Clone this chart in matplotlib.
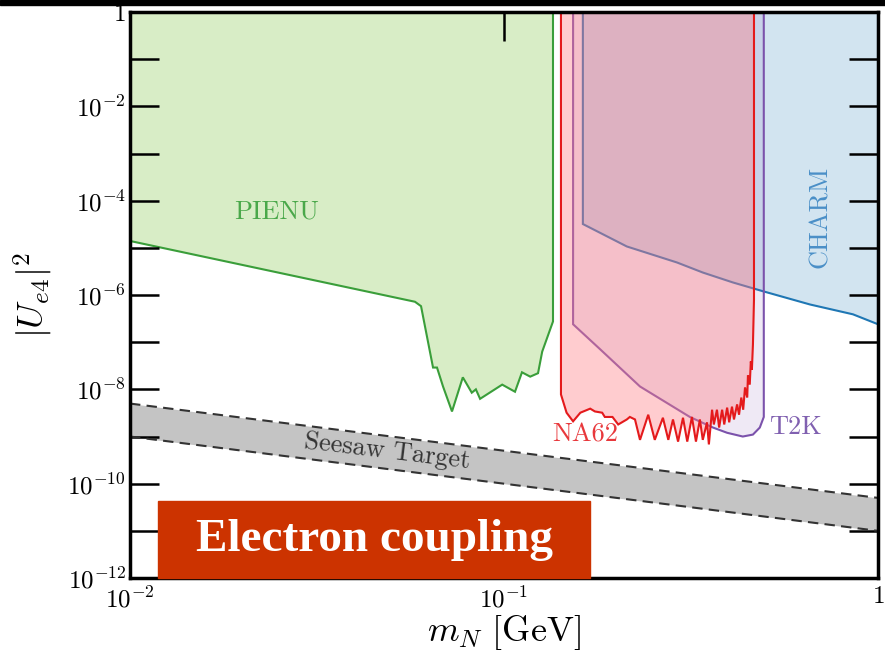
import numpy as np
import matplotlib.pyplot as plt
from matplotlib.patches import Rectangle
from matplotlib.ticker import FixedLocator, FuncFormatter, NullLocator

plt.rcParams['mathtext.fontset'] = 'cm'
plt.rcParams['font.family'] = 'serif'
plt.rcParams['font.serif'] = ['cmr10', 'DejaVu Serif']
plt.rcParams['axes.formatter.use_mathtext'] = True

# PIENU exclusion (mass in GeV, |U_e4|^2)
pienu_mass = [0.01, 0.01, 0.0578, 0.0600, 0.0646, 0.0662, 0.0687, 0.0726, 0.0776,
              0.0820, 0.0841, 0.0863, 0.0989, 0.107, 0.1117, 0.1175, 0.1233,
              0.1265, 0.1352, 0.1352]
pienu_u2 = [1, 1.4e-5, 7.2e-7, 5.8e-7, 2.9e-8, 2.9e-8, 1.15e-8, 3.4e-9, 1.8e-8,
            8.5e-9, 1.0e-8, 6.3e-9, 1.26e-8, 8.9e-9, 2.3e-8, 1.86e-8, 2.2e-8,
            6.3e-8, 2.75e-7, 1]

# NA62 K -> e N
na62_mass = [0.142, 0.142, 0.147, 0.153, 0.160, 0.170, 0.175, 0.183, 0.186, 0.195,
             0.202, 0.213, 0.217, 0.224, 0.231, 0.243, 0.253, 0.266, 0.275, 0.283,
             0.292, 0.301, 0.309, 0.318, 0.326, 0.334, 0.340, 0.349, 0.353, 0.360,
             0.364, 0.371, 0.376, 0.383, 0.388, 0.395, 0.400, 0.407, 0.412, 0.420,
             0.425, 0.431, 0.436, 0.441, 0.447, 0.449, 0.454, 0.457, 0.460, 0.463,
             0.466, 0.466]
na62_u2 = [1, 7.8e-9, 3.2e-9, 2.1e-9, 3.2e-9, 3.9e-9, 3.4e-9, 3.2e-9, 2.6e-9, 2.6e-9,
           1.8e-9, 2.3e-9, 2.6e-9, 2.3e-9, 8.5e-10, 2.9e-9, 8.5e-10, 2.5e-9, 8.5e-10, 2.3e-9,
           7.8e-10, 2.5e-9, 7.8e-10, 2.6e-9, 7.8e-10, 2.3e-9, 8.5e-10, 2.0e-9, 6.8e-10, 3.7e-9,
           1.8e-9, 3.7e-9, 1.55e-9, 3.7e-9, 1.8e-9, 4.1e-9, 2.0e-9, 4.3e-9, 2.3e-9, 4.8e-9,
           2.9e-9, 6.7e-9, 3.7e-9, 1.1e-8, 6.7e-9, 2.0e-8, 1.26e-8, 3.9e-8, 2.6e-8, 8.9e-8,
           8e-7, 1]

# T2K ND280
t2k_mass = [0.153, 0.153, 0.181, 0.231, 0.314, 0.362, 0.395, 0.435, 0.463, 0.483,
            0.495, 0.495]
t2k_u2 = [1, 2.4e-7, 7.0e-8, 1.15e-8, 2.6e-9, 1.55e-9, 1.2e-9, 1.0e-9, 1.1e-9, 1.55e-9,
          2.6e-9, 1]

# CHARM
charm_mass = [0.1625, 0.1625, 0.213, 0.290, 0.340, 0.409, 0.493, 0.658, 0.857, 1.0, 1.0]
charm_u2 = [1, 3.2e-5, 1.07e-5, 4.9e-6, 3.0e-6, 1.85e-6, 1.2e-6, 6.3e-7, 3.9e-7, 2.4e-7, 1]

# seesaw band, |U|^2 = m_nu / m_N
seesaw_mass = [0.01, 1.0]
seesaw_low = [1e-9, 1e-11]
seesaw_high = [5e-9, 5e-11]

fig = plt.figure(figsize=(8.85, 6.57), dpi=100)
ax = fig.add_axes([0.1469, 0.1202, 0.8452, 0.8615])
ax.set_xscale('log')
ax.set_yscale('log')

ax.fill(charm_mass, charm_u2, fc=(0.12, 0.47, 0.71, 0.2), ec='#1f77b4', lw=1.5)
ax.fill(t2k_mass, t2k_u2, fc=(0.50, 0.32, 0.69, 0.12), ec='#7b52ab', lw=1.5)
ax.fill(na62_mass, na62_u2, fc=(1.0, 0.5, 0.53, 0.4), ec='#e41a1c', lw=1.5)
ax.fill(pienu_mass, pienu_u2, fc='#d8edc6', ec='#3a9e3a', lw=1.5)

ax.fill_between(seesaw_mass, seesaw_low, seesaw_high, color='#c4c4c4', lw=0)
ax.plot(seesaw_mass, seesaw_low, ls='--', color='#333333', lw=1.5, dashes=(5, 3))
ax.plot(seesaw_mass, seesaw_high, ls='--', color='#333333', lw=1.5, dashes=(5, 3))

ax.text(0.0247, 6e-5, 'PIENU', color='#4aa84a', fontsize=19, ha='center', va='center')
ax.text(0.70, 4.5e-5, 'CHARM', color='#4a8fc7', fontsize=19, ha='center', va='center',
        rotation=90)
ax.text(0.165, 1.1e-9, 'NA62', color='#e8383c', fontsize=19, ha='center', va='center')
ax.text(0.60, 1.55e-9, 'T2K', color='#8060b0', fontsize=19, ha='center', va='center')
ax.text(0.0487, 4.8e-10, 'Seesaw Target', color='#333333', fontsize=19,
        ha='center', va='center', rotation=-7)

ax.set_xlim(1e-2, 1)
ax.set_ylim(1e-12, 1)


def log_label(v, pos, step=1):
    e = int(round(np.log10(v)))
    if e % step:
        return ''
    if e == 0:
        return r'$1$'
    return r'$10^{%d}$' % e


ax.xaxis.set_major_locator(FixedLocator([1e-2, 1e-1, 1]))
ax.yaxis.set_major_locator(FixedLocator(10.0 ** np.arange(-12, 1)))
ax.xaxis.set_minor_locator(NullLocator())
ax.yaxis.set_minor_locator(NullLocator())
ax.xaxis.set_major_formatter(FuncFormatter(log_label))
ax.yaxis.set_major_formatter(FuncFormatter(lambda v, p: log_label(v, p, 2)))
ax.tick_params(which='major', direction='in', length=21, width=1.8,
               top=True, right=True, labelsize=18)
ax.tick_params(axis='x', pad=6)
ax.tick_params(axis='y', pad=3)
for s in ax.spines.values():
    s.set_linewidth(2.5)

ax.set_ylabel(r'$|U_{e4}|^2$', fontsize=26)
ax.set_xlabel(r'$m_N\ [\mathrm{GeV}]$', fontsize=26)
ax.yaxis.set_label_coords(-0.10, 0.5)
ax.xaxis.set_label_coords(0.5, -0.061)

# black strip along the top edge
fig.add_artist(Rectangle((0, 1 - 5 / 657), 1, 5 / 657, transform=fig.transFigure,
                         color='black', zorder=10))
# highlighted caption box
fig.add_artist(Rectangle((158 / 885, 79 / 657), 432 / 885, 77 / 657,
                         transform=fig.transFigure, color='#cc3300', zorder=10))
fig.text(374 / 885, 1 - 540 / 657, 'Electron coupling', family='Liberation Serif',
         weight='bold', fontsize=34, color='white', ha='center', va='center', zorder=11)

fig.savefig('out.png', dpi=100)
